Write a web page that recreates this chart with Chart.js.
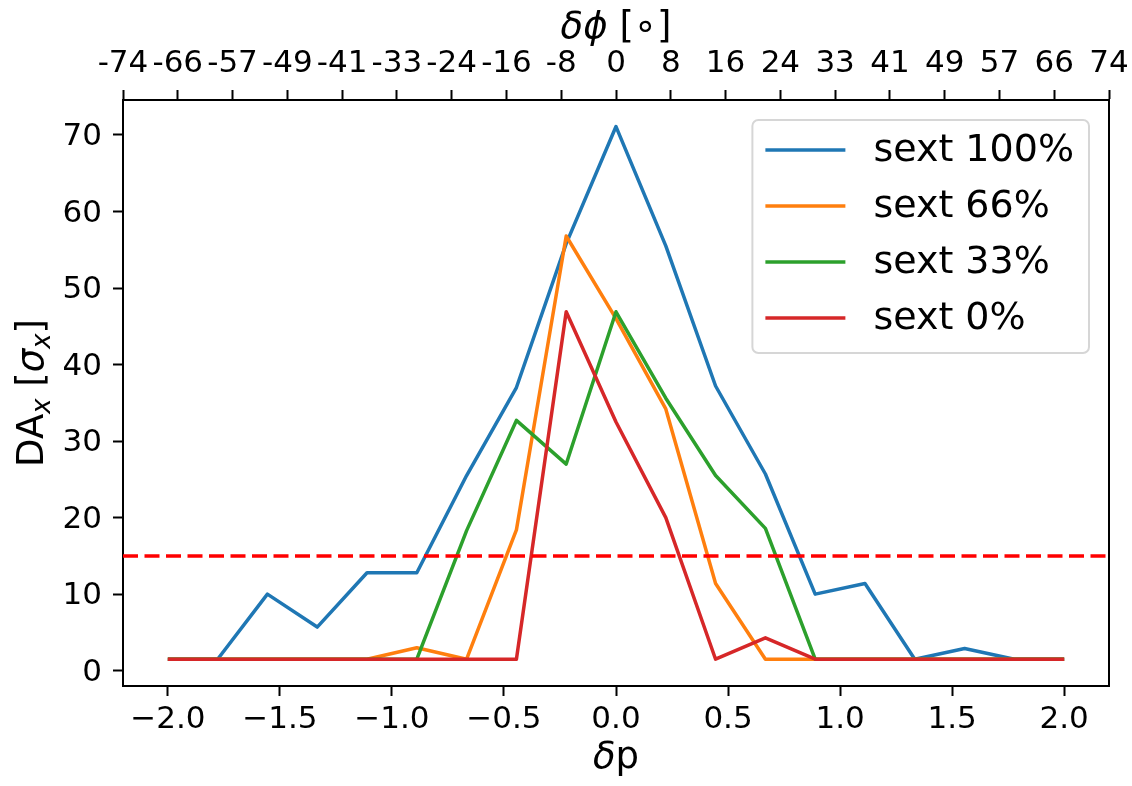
<!DOCTYPE html>
<html>
<head>
<meta charset="utf-8">
<script src="https://cdn.jsdelivr.net/npm/chart.js@4/dist/chart.umd.min.js"></script>
<style>
  html, body { margin: 0; padding: 0; background: #ffffff; }
  #wrap { width: 1132px; height: 786px; position: relative; }
</style>
</head>
<body>
<div id="wrap"><canvas id="chart"></canvas></div>
<script>
// ---- data ----
const dpValues = [-2.0, -1.7778, -1.5556, -1.3333, -1.1111, -0.8889, -0.6667, -0.4444, -0.2222, 0.0,
                  0.2222, 0.4444, 0.6667, 0.8889, 1.1111, 1.3333, 1.5556, 1.7778, 2.0];
const topTickValues = [-74, -65.78, -57.56, -49.33, -41.11, -32.89, -24.67, -16.44, -8.22, 0,
                       8.22, 16.44, 24.67, 32.89, 41.11, 49.33, 57.56, 65.78, 74];
const topTickLabels = ['-74','-66','-57','-49','-41','-33','-24','-16','-8','0',
                       '8','16','24','33','41','49','57','66','74'];
const bottomTickValues = [-2.0, -1.5, -1.0, -0.5, 0.0, 0.5, 1.0, 1.5, 2.0];
const bottomTickLabels = ['\u22122.0','\u22121.5','\u22121.0','\u22120.5','0.0','0.5','1.0','1.5','2.0'];
const yTickValues = [0, 10, 20, 30, 40, 50, 60, 70];
const seriesNames = ['sext 100%', 'sext 66%', 'sext 33%', 'sext 0%'];
const sext100 = [1.5, 1.5, 10.0, 5.7, 12.8, 12.8, 25.5, 37.0, 55.8, 71.1, 55.5, 37.2, 25.7, 10.0, 11.4, 1.5, 2.9, 1.5, 1.5];
const sext66  = [1.5, 1.5, 1.5, 1.5, 1.5, 3.0, 1.5, 18.4, 56.8, 46.0, 34.2, 11.4, 1.5, 1.5, 1.5, 1.5, 1.5, 1.5, 1.5];
const sext33  = [1.5, 1.5, 1.5, 1.5, 1.5, 1.5, 18.3, 32.7, 27.0, 46.9, 35.6, 25.5, 18.6, 1.5, 1.5, 1.5, 1.5, 1.5, 1.5];
const sext0   = [1.5, 1.5, 1.5, 1.5, 1.5, 1.5, 1.5, 1.5, 46.9, 32.5, 20.0, 1.5, 4.3, 1.5, 1.5, 1.5, 1.5, 1.5, 1.5];
const thresholdValue = 15;
const xLimits = [-2.2, 2.2];
const x2Limits = [-74, 74];
const yLimits = [-2.0, 74.57];

// axis titles (mathtext-like segments: it = italic, sub = subscript)
const xTitle  = [{ t: '\u03b4', it: true }, { t: 'p' }];
const x2Title = [{ t: '\u03b4\u03d5', it: true }, { t: ' [' }, { t: '\u2218' }, { t: ']' }];
const yTitle  = [{ t: 'DA' }, { t: 'x', it: true, sub: true }, { t: ' [' }, { t: '\u03c3', it: true },
                 { t: 'x', it: true, sub: true }, { t: ']' }];

// ---- styling ----
const FONT = '"DejaVu Sans", sans-serif';
const colors = ['#1f77b4', '#ff7f0e', '#2ca02c', '#d62728'];
const seriesValues = [sext100, sext66, sext33, sext0];

Chart.defaults.font.family = FONT;
Chart.defaults.color = '#000000';

const datasets = seriesValues.map((vals, i) => ({
  label: seriesNames[i],
  data: dpValues.map((x, k) => ({ x: x, y: vals[k] })),
  borderColor: colors[i],
  backgroundColor: colors[i],
  borderWidth: 3.5,
  pointRadius: 0,
  tension: 0,
  fill: false,
  inLegend: true,
  order: 4 - i,
  xAxisID: 'x',
  yAxisID: 'y'
}));
datasets.push({
  label: 'threshold',
  data: xLimits.map(x => ({ x: x, y: thresholdValue })),
  borderColor: '#ff0000',
  borderWidth: 3.5,
  borderDash: [15, 6.5],
  borderCapStyle: 'butt',
  pointRadius: 0,
  fill: false,
  inLegend: false,
  order: 0,
  xAxisID: 'x',
  yAxisID: 'y'
});

function segFont(s, fs) {
  return (s.it ? 'italic ' : '') + (s.sub ? fs * 0.7 : fs) + 'px ' + FONT;
}
function drawRich(ctx, segs, fs, x, y, rot) {
  ctx.save();
  ctx.translate(x, y);
  if (rot) ctx.rotate(rot);
  let total = 0;
  const widths = segs.map(s => { ctx.font = segFont(s, fs); const w = ctx.measureText(s.t).width; total += w; return w; });
  let cx = -total / 2;
  ctx.fillStyle = '#000000';
  ctx.textBaseline = 'alphabetic';
  ctx.textAlign = 'left';
  segs.forEach((s, i) => {
    ctx.font = segFont(s, fs);
    ctx.fillText(s.t, cx, s.sub ? fs * 0.19 : 0);
    cx += widths[i];
  });
  ctx.restore();
}

const titlesPlugin = {
  id: 'mplTitles',
  afterDraw(chart) {
    const ctx = chart.ctx, ca = chart.chartArea;
    const fs = 37;
    const midX = (ca.left + ca.right) / 2, midY = (ca.top + ca.bottom) / 2;
    drawRich(ctx, xTitle, fs, midX, ca.bottom + 82, 0);
    drawRich(ctx, x2Title, fs, midX, ca.top - 62, 0);
    drawRich(ctx, yTitle, fs, ca.left - 80, midY, -Math.PI / 2);
  }
};

const legendPlugin = {
  id: 'mplLegend',
  afterDraw(chart) {
    const ctx = chart.ctx, ca = chart.chartArea;
    const items = chart.data.datasets.filter(d => d.inLegend);
    const fs = 38;
    ctx.save();
    ctx.font = fs + 'px ' + FONT;
    const textW = Math.max(...items.map(d => ctx.measureText(d.label).width));
    const padL = 13, handleLen = 80, gap = 28, padR = 15, rowH = 56, padT = 30, padB = 35;
    const w = padL + handleLen + gap + textW + padR;
    const h = padT + rowH * (items.length - 1) + padB;
    const right = ca.right - 20, top = ca.top + 20, left = right - w;
    const r = 6;
    ctx.beginPath();
    ctx.moveTo(left + r, top);
    ctx.lineTo(left + w - r, top);
    ctx.arcTo(left + w, top, left + w, top + r, r);
    ctx.lineTo(left + w, top + h - r);
    ctx.arcTo(left + w, top + h, left + w - r, top + h, r);
    ctx.lineTo(left + r, top + h);
    ctx.arcTo(left, top + h, left, top + h - r, r);
    ctx.lineTo(left, top + r);
    ctx.arcTo(left, top, left + r, top, r);
    ctx.closePath();
    ctx.fillStyle = 'rgba(255,255,255,0.8)';
    ctx.fill();
    ctx.lineWidth = 2;
    ctx.strokeStyle = '#d6d6d6';
    ctx.stroke();
    items.forEach((d, i) => {
      const y = top + padT + i * rowH;
      ctx.beginPath();
      ctx.moveTo(left + padL, y);
      ctx.lineTo(left + padL + handleLen, y);
      ctx.strokeStyle = d.borderColor;
      ctx.lineWidth = d.borderWidth;
      ctx.lineCap = 'butt';
      ctx.stroke();
      ctx.fillStyle = '#000000';
      ctx.textBaseline = 'middle';
      ctx.textAlign = 'left';
      ctx.fillText(d.label, left + padL + handleLen + gap, y + 1);
    });
    ctx.restore();
  }
};

const tickGrid = { display: true, drawOnChartArea: false, drawTicks: true, tickLength: 10, tickWidth: 2, tickColor: '#000000' };
const frameBorder = { display: true, color: '#000000', width: 2 };
const fixH = s => { s.height = 100; s.paddingLeft = 0; s.paddingRight = 0; };

new Chart(document.getElementById('chart'), {
  type: 'line',
  data: { datasets: datasets },
  plugins: [titlesPlugin, legendPlugin],
  options: {
    responsive: true,
    maintainAspectRatio: false,
    animation: false,
    devicePixelRatio: 1,
    layout: { padding: 0 },
    plugins: { legend: { display: false }, tooltip: { enabled: false } },
    elements: { line: { borderJoinStyle: 'round' } },
    scales: {
      x: {
        type: 'linear', position: 'bottom', min: xLimits[0], max: xLimits[1],
        afterBuildTicks: s => { s.ticks = bottomTickValues.map(v => ({ value: v })); },
        afterFit: fixH,
        ticks: { autoSkip: false, maxRotation: 0, minRotation: 0, color: '#000', padding: 5,
                 font: { family: FONT, size: 31 },
                 callback: (v, i) => bottomTickLabels[i] },
        grid: tickGrid,
        border: frameBorder,
        title: { display: false }
      },
      x2: {
        type: 'linear', position: 'top', min: x2Limits[0], max: x2Limits[1],
        afterBuildTicks: s => { s.ticks = topTickValues.map(v => ({ value: v })); },
        afterFit: fixH,
        ticks: { autoSkip: false, maxRotation: 0, minRotation: 0, color: '#000', padding: 7,
                 font: { family: FONT, size: 31 },
                 callback: (v, i) => topTickLabels[i] },
        grid: tickGrid,
        border: frameBorder,
        title: { display: false }
      },
      y: {
        type: 'linear', position: 'left', min: yLimits[0], max: yLimits[1],
        afterBuildTicks: s => { s.ticks = yTickValues.map(v => ({ value: v })); },
        afterFit: s => { s.width = 123; s.paddingTop = 0; s.paddingBottom = 0; },
        ticks: { color: '#000', padding: 11, labelOffset: 2, font: { family: FONT, size: 31 },
                 callback: v => String(v) },
        grid: tickGrid,
        border: frameBorder,
        title: { display: false }
      },
      y2: {
        type: 'linear', position: 'right', min: yLimits[0], max: yLimits[1],
        afterFit: s => { s.width = 23; s.paddingTop = 0; s.paddingBottom = 0; },
        ticks: { display: false },
        grid: { display: true, drawOnChartArea: false, drawTicks: false },
        border: frameBorder
      }
    }
  }
});
</script>
</body>
</html>
